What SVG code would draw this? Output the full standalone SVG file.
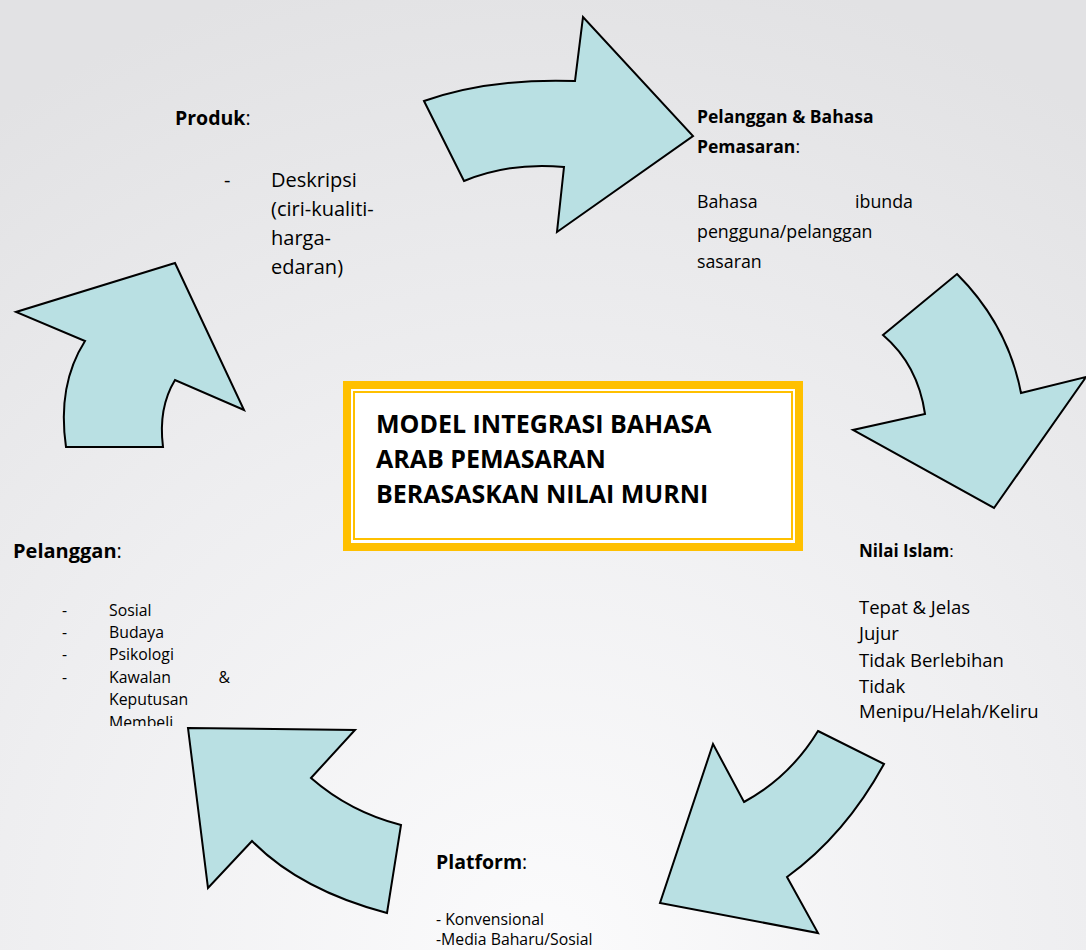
<svg xmlns="http://www.w3.org/2000/svg" width="1086" height="950" viewBox="0 0 1086 950">
<defs>
<radialGradient id="bg" cx="543" cy="950" r="1000" gradientUnits="userSpaceOnUse">
<stop offset="0" stop-color="#fbfbfc"/>
<stop offset="0.55" stop-color="#eeeef0"/>
<stop offset="1" stop-color="#e2e2e4"/>
</radialGradient>
<clipPath id="clipPel"><rect x="0" y="520" width="300" height="206"/></clipPath>
<style>
.arrow{fill:#b9e0e3;stroke:#000;stroke-width:2;stroke-linejoin:miter}
text{font-family:"Open Sans","Liberation Sans",sans-serif;fill:#000}
.b{font-weight:bold}
.title{font-family:"Open Sans","Liberation Sans",sans-serif;font-weight:bold;font-size:25px}
</style>
</defs>
<rect width="1086" height="950" fill="url(#bg)"/>

<g id="connectors">
<path class="arrow" d="M424,101 Q490,78 575,81 L583,17 L693,136 L557,232 L564,167 Q510,162 464,181 Z"/>
<path class="arrow" d="M957,274 Q1008,325 1021,393 L1086,377 L994,508 L853,430 L925,414 Q918,365 883,335 Z"/>
<path class="arrow" d="M818,731 L884,764 Q845,835 787,877 L818,933 L660,903 L713,744 L744,802 Q790,777 818,731 Z"/>
<path class="arrow" d="M188,728 L355,730 L311,778 Q350,812 401,825 L387,913 Q300,890 252,841 L208,888 Z"/>
<path class="arrow" d="M175,263 L244,410 L175,380 Q158,408 163,447 L66,447 Q57,385 85,341 L16,312 Z"/>
</g>

<g id="center">
<rect x="347" y="385" width="452" height="162" fill="#fff" stroke="#ffc000" stroke-width="8"/>
<rect x="354" y="392" width="438" height="147" fill="none" stroke="#ffc000" stroke-width="2"/>
<text class="title" x="376" y="433">MODEL INTEGRASI BAHASA</text>
<text class="title" x="376" y="468">ARAB PEMASARAN</text>
<text class="title" x="376" y="503">BERASASKAN NILAI MURNI</text>
</g>

<g id="produk">
<text x="175" y="125" font-size="19.5"><tspan class="b">Produk</tspan>:</text>
<text x="224" y="187" font-size="20">-</text>
<text x="271" y="187" font-size="20">Deskripsi</text>
<text x="271" y="216" font-size="20">(ciri-kualiti-</text>
<text x="271" y="245" font-size="20">harga-</text>
<text x="271" y="274" font-size="20">edaran)</text>
</g>

<g id="pelanggan-bahasa">
<text x="697" y="123" font-size="17.5" class="b">Pelanggan &amp; Bahasa</text>
<text x="697" y="153" font-size="17.5"><tspan class="b">Pemasaran</tspan>:</text>
<text x="697" y="208" font-size="17.8">Bahasa</text>
<text x="913" y="208" font-size="17.8" text-anchor="end">ibunda</text>
<text x="697" y="238" font-size="17.8">pengguna/pelanggan</text>
<text x="697" y="268" font-size="17.8">sasaran</text>
</g>

<g id="nilai-islam">
<text x="859" y="557" font-size="17"><tspan class="b">Nilai Islam</tspan>:</text>
<text x="859" y="614" font-size="18.5">Tepat &amp; Jelas</text>
<text x="859" y="640" font-size="18.5">Jujur</text>
<text x="859" y="667" font-size="18.5">Tidak Berlebihan</text>
<text x="859" y="693" font-size="18.5">Tidak</text>
<text x="859" y="718" font-size="18.5">Menipu/Helah/Keliru</text>
</g>

<g id="platform">
<text x="436" y="869" font-size="19.5"><tspan class="b">Platform</tspan>:</text>
<text x="436" y="925" font-size="15.8">- Konvensional</text>
<text x="436" y="945" font-size="15.8">-Media Baharu/Sosial</text>
</g>

<g id="pelanggan">
<text x="13" y="558" font-size="20"><tspan class="b">Pelanggan</tspan>:</text>
<g font-size="15.8" clip-path="url(#clipPel)">
<text x="62" y="616">-</text><text x="109" y="616">Sosial</text>
<text x="62" y="638">-</text><text x="109" y="638">Budaya</text>
<text x="62" y="660">-</text><text x="109" y="660">Psikologi</text>
<text x="62" y="683">-</text><text x="109" y="683">Kawalan</text><text x="230" y="683" text-anchor="end">&amp;</text>
<text x="109" y="705">Keputusan</text>
<text x="109" y="728">Membeli</text>
</g>
</g>
</svg>
